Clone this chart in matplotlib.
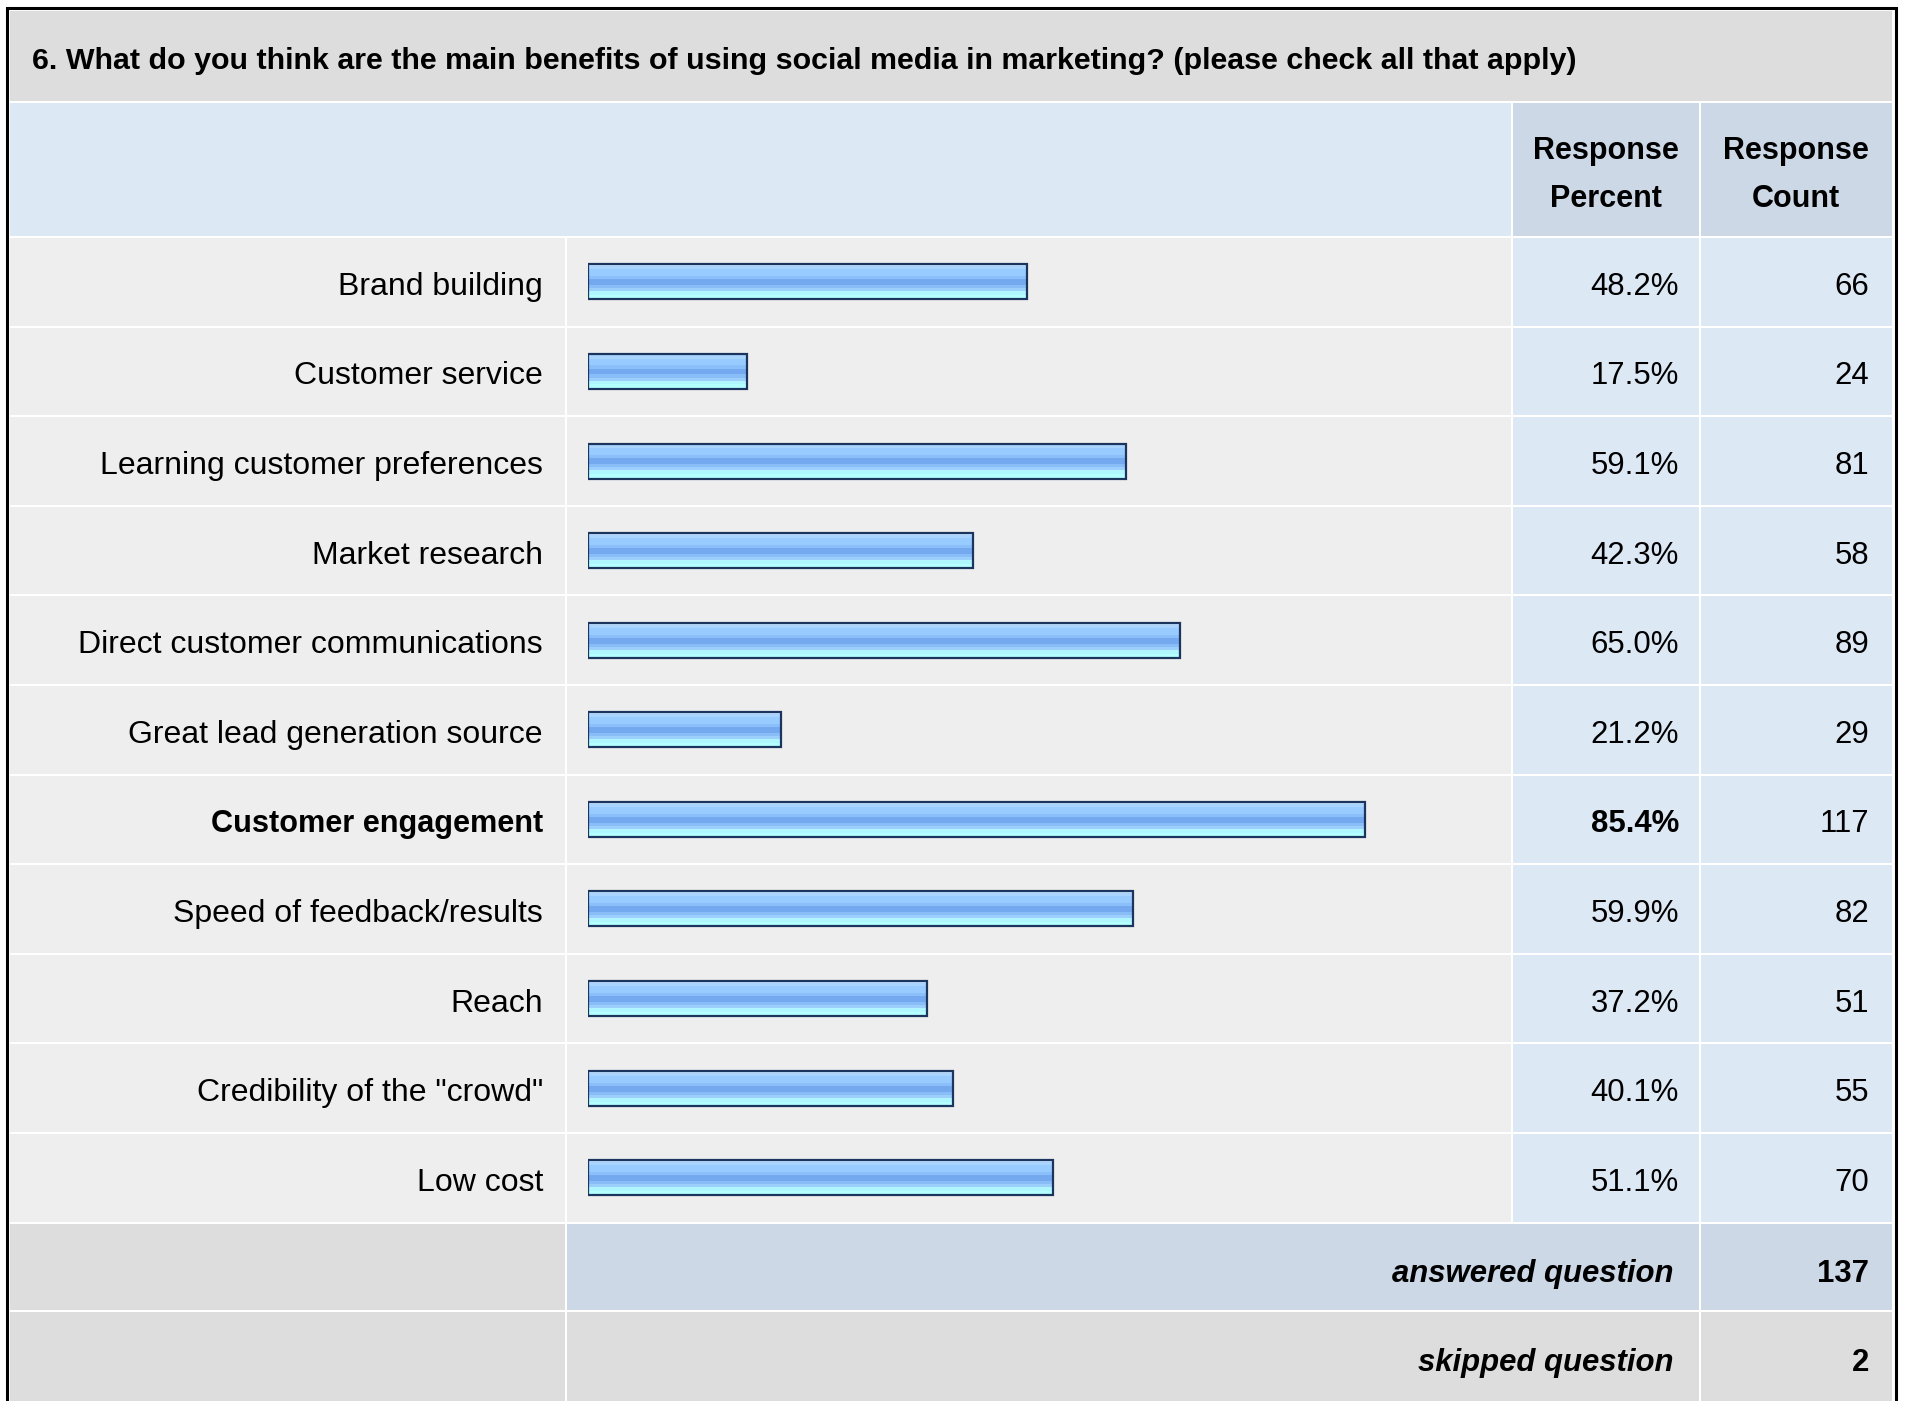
import matplotlib
matplotlib.use("Agg")
import matplotlib.pyplot as plt
import numpy as np
from matplotlib.patches import Rectangle
from matplotlib.colors import to_rgb

plt.rcParams["font.family"] = ["Liberation Sans", "DejaVu Sans"]

title = "6. What do you think are the main benefits of using social media in marketing? (please check all that apply)"
categories = [
    "Brand building",
    "Customer service",
    "Learning customer preferences",
    "Market research",
    "Direct customer communications",
    "Great lead generation source",
    "Customer engagement",
    "Speed of feedback/results",
    "Reach",
    'Credibility of the "crowd"',
    "Low cost",
]
percents = [48.2, 17.5, 59.1, 42.3, 65.0, 21.2, 85.4, 59.9, 37.2, 40.1, 51.1]
counts = [66, 24, 81, 58, 89, 29, 117, 82, 51, 55, 70]
answered = 137
skipped = 2

W, H = 1907, 1401
fig = plt.figure(figsize=(W / 100, H / 100), dpi=100)
bg = fig.add_axes([0, 0, 1, 1])
bg.set_xlim(0, W)
bg.set_ylim(H, 0)
bg.axis("off")

GRAY = "#dddddd"
ROWC = "#eeeeee"
LBLUE = "#dde8f5"
MBLUE = "#ccd8e6"
FS = 22.4
LFS = 23.0

# column edges (px)
cols = [(10, 565), (567, 1511), (1513, 1699), (1701, 1892)]
row_top = 238
pitch = 89.6
n = len(categories)


def cell(x0, x1, y0, y1, c):
    bg.add_patch(Rectangle((x0, y0), x1 - x0, y1 - y0, facecolor=c, edgecolor="none"))


# outer frame
bg.add_patch(Rectangle((6.5, 7.5), 1889, 1420, facecolor="white", edgecolor="black", lw=2.2))

# title band
cell(10, 1892, 11, 101, GRAY)
bg.text(32, 61, title, fontsize=21.85, fontweight="bold", ha="left", va="center")

# header
cell(10, 1511, 103, 236, LBLUE)
cell(1513, 1699, 103, 236, MBLUE)
cell(1701, 1892, 103, 236, MBLUE)
bg.text(1606, 175, "Response\nPercent", fontsize=22.0, fontweight="bold",
        ha="center", va="center", linespacing=1.74)
bg.text(1796, 175, "Response\nCount", fontsize=22.0, fontweight="bold",
        ha="center", va="center", linespacing=1.74)

top_idx = int(np.argmax(percents))
for i in range(n):
    y0 = row_top + i * pitch
    y1 = y0 + pitch - 2
    yc = (y0 + y1) / 2 + 5
    cell(cols[0][0], cols[0][1], y0, y1, ROWC)
    cell(cols[1][0], cols[1][1], y0, y1, ROWC)
    cell(cols[2][0], cols[2][1], y0, y1, LBLUE)
    cell(cols[3][0], cols[3][1], y0, y1, LBLUE)
    if i == top_idx:
        bg.text(543, yc, categories[i], fontsize=22.1, fontweight="bold", ha="right", va="center")
        bg.text(1679, yc, f"{percents[i]:.1f}%", fontsize=FS, fontweight="bold", ha="right", va="center")
    else:
        bg.text(543, yc, categories[i], fontsize=LFS, ha="right", va="center")
        bg.text(1679, yc, f"{percents[i]:.1f}%", fontsize=FS, ha="right", va="center")
    bg.text(1869, yc, str(counts[i]), fontsize=FS, ha="right", va="center")

# footer rows
fy = row_top + n * pitch
cell(cols[0][0], cols[0][1], fy, fy + 86, GRAY)
cell(cols[1][0], cols[2][1], fy, fy + 86, MBLUE)
cell(cols[3][0], cols[3][1], fy, fy + 86, MBLUE)
bg.text(1673, fy + 50, "answered question", fontsize=FS, fontweight="bold",
        style="italic", ha="right", va="center")
bg.text(1869, fy + 50, str(answered), fontsize=FS, fontweight="bold", ha="right", va="center")

sy = fy + 88
cell(cols[0][0], cols[0][1], sy, sy + 120, GRAY)
cell(cols[1][0], cols[2][1], sy, sy + 120, GRAY)
cell(cols[3][0], cols[3][1], sy, sy + 120, GRAY)
bg.text(1673, sy + 51, "skipped question", fontsize=FS, fontweight="bold",
        style="italic", ha="right", va="center")
bg.text(1869, sy + 51, str(skipped), fontsize=FS, fontweight="bold", ha="right", va="center")

# bar axes: 0..100 % over the bar column
bx0, bx1 = 588, 1498
by0, by1 = row_top - 1, row_top + n * pitch - 1
ax = fig.add_axes([bx0 / W, 1 - by1 / H, (bx1 - bx0) / W, (by1 - by0) / H])
ax.axis("off")
ypos = np.arange(n)
bh = 35 / pitch
bars = ax.barh(ypos, percents, height=bh, facecolor="none",
               edgecolor="#1c355e", linewidth=1.6, zorder=3)

grad_cols = (["#c4e2ff"] * 2 + ["#a8d4ff"] * 3 + ["#98cbff"] * 6 + ["#8abffa"] * 3 +
             ["#74a9f0"] * 5 + ["#88bdf8"] * 3 + ["#9ccffc"] * 3 + ["#b0f6ff"] * 3 +
             ["#b4ffff"] * 4)
grad = np.array([[to_rgb(c)] for c in grad_cols])
for b in bars:
    x0 = b.get_x()
    x1 = x0 + b.get_width()
    yb = b.get_y()
    yt = yb + b.get_height()
    ax.imshow(grad, extent=(x0, x1, yt, yb), origin="upper",
              aspect="auto", interpolation="nearest", zorder=2)
ax.set_xlim(0, 100)
ax.set_ylim(n - 0.5, -0.5)

fig.savefig("out.png", dpi=100)
